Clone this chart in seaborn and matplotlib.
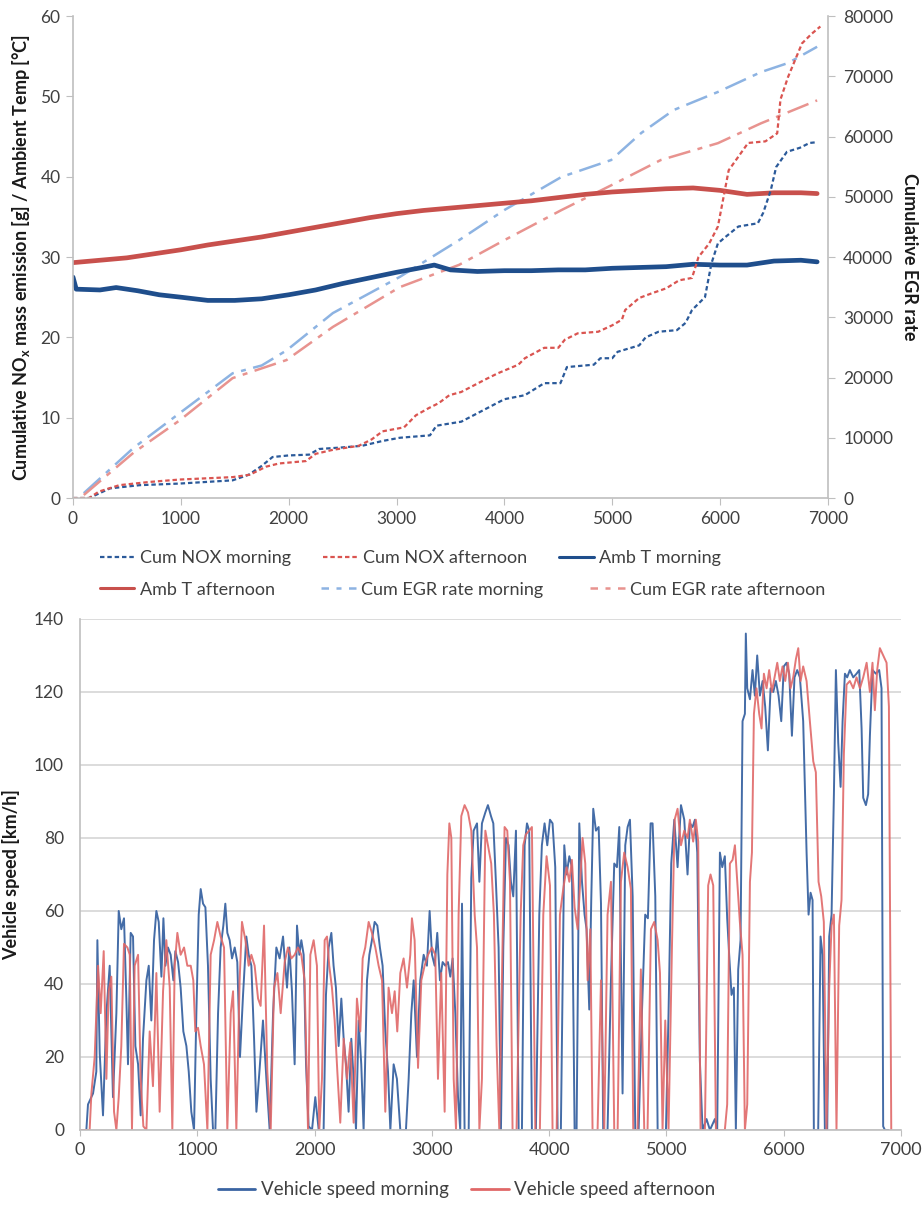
import pandas as pd
import seaborn as sns
import matplotlib.pyplot as plt
from matplotlib.lines import Line2D

sns.set_style('white')
plt.rcParams['font.family'] = ['Lato', 'DejaVu Sans']
plt.rcParams['mathtext.default'] = 'regular'

# ---------------- top chart data ----------------
# cumulative NOx [g]
nox_m_t = [0, 150, 343, 620, 990, 1480, 1630, 1750, 1850, 2000, 2190, 2280, 2500, 2680, 2870, 3030,
           3310, 3370, 3460, 3600, 4000, 4190, 4370, 4520, 4580, 4830, 4890, 5000, 5050, 5250, 5310,
           5430, 5600, 5680, 5740, 5860, 5920, 5980, 6050, 6170, 6350, 6400, 6470, 6520, 6620, 6740,
           6830, 6900]
nox_m_v = [0, 0, 1.2, 1.6, 1.8, 2.2, 2.9, 4.0, 5.1, 5.3, 5.4, 6.1, 6.3, 6.5, 7.1, 7.5,
           7.8, 9.0, 9.2, 9.5, 12.3, 12.8, 14.3, 14.3, 16.3, 16.6, 17.4, 17.4, 18.2, 19.0, 20.0,
           20.7, 20.9, 21.8, 23.4, 25.0, 29.2, 31.7, 32.5, 33.8, 34.2, 35.5, 38.3, 41.2, 43.1, 43.6,
           44.2, 44.3]
nox_a_t = [0, 150, 240, 430, 710, 990, 1480, 1640, 1790, 1910, 2160, 2250, 2410, 2650, 2770, 2870,
           3070, 3180, 3300, 3390, 3490, 3600, 3815, 3935, 4130, 4190, 4370, 4500, 4560, 4680, 4870,
           5000, 5090, 5120, 5250, 5370, 5500, 5620, 5740, 5800, 5900, 5980, 6050, 6080, 6170, 6260,
           6420, 6530, 6560, 6630, 6760, 6850, 6930]
nox_a_v = [0, 0, 0.8, 1.6, 2.0, 2.3, 2.6, 2.9, 3.9, 4.3, 4.6, 5.5, 6.0, 6.5, 7.3, 8.3,
           8.8, 10.3, 11.2, 11.8, 12.8, 13.2, 14.7, 15.5, 16.6, 17.4, 18.7, 18.7, 19.7, 20.5, 20.7,
           21.5, 22.2, 23.4, 24.9, 25.5, 26.1, 27.1, 27.4, 30.0, 31.7, 33.8, 38.7, 40.8, 42.5, 44.2,
           44.4, 45.4, 49.6, 52.4, 56.6, 57.8, 58.7]

# ambient temperature [degC]
amb_m_t = [0, 30, 250, 400, 600, 800, 1000, 1250, 1500, 1750, 2000, 2250, 2500, 2750, 3000, 3200,
           3350, 3500, 3750, 4000, 4250, 4500, 4750, 5000, 5250, 5500, 5750, 6000, 6250, 6500, 6750,
           6900]
amb_m_v = [27.5, 26.0, 25.9, 26.2, 25.8, 25.3, 25.0, 24.6, 24.6, 24.8, 25.3, 25.9, 26.7, 27.4, 28.1,
           28.6, 29.0, 28.4, 28.2, 28.3, 28.3, 28.4, 28.4, 28.6, 28.7, 28.8, 29.1, 29.0, 29.0, 29.5,
           29.6, 29.4]
amb_a_t = [0, 250, 500, 750, 1000, 1250, 1500, 1750, 2000, 2250, 2500, 2750, 3000, 3250, 3500, 3750,
           4000, 4250, 4500, 4750, 5000, 5250, 5500, 5750, 6000, 6250, 6500, 6750, 6900]
amb_a_v = [29.3, 29.6, 29.9, 30.4, 30.9, 31.5, 32.0, 32.5, 33.1, 33.7, 34.3, 34.9, 35.4, 35.8, 36.1,
           36.4, 36.7, 37.0, 37.4, 37.8, 38.1, 38.3, 38.5, 38.6, 38.3, 37.8, 38.0, 38.0, 37.9]

# cumulative EGR rate (right axis)
egr_m_t = [100, 560, 990, 1480, 1750, 1980, 2410, 3030, 3580, 4000, 4530, 4990, 5270, 5570, 5980,
           6380, 6630, 6900]
egr_m_v = [800, 8300, 14100, 20700, 22000, 24500, 30700, 36700, 42800, 47800, 53300, 56100, 60600,
           64400, 67400, 70700, 72200, 74900]
egr_a_t = [100, 560, 990, 1480, 1980, 2410, 3030, 3580, 4000, 4530, 4990, 5450, 5980, 6380, 6900]
egr_a_v = [500, 7500, 12900, 19900, 22900, 28400, 35000, 38700, 42800, 47800, 51900, 56100, 58900,
           62200, 66000]

# ---------------- bottom chart data: vehicle speed [km/h] ----------------
spd_m_t = [0, 54, 68, 111, 139, 148, 168, 196, 225, 253, 281, 310, 330, 352, 375, 395, 409, 432, 452,
           472, 495, 517, 537, 566, 586, 608, 631, 651, 671, 694, 711, 728, 750, 773, 796, 813, 836,
           858, 881, 907, 927, 949, 972, 992, 1012, 1029, 1049, 1069, 1091, 1114, 1134, 1154, 1177,
           1199, 1222, 1239, 1256, 1276, 1296, 1319, 1341, 1364, 1390, 1418, 1438, 1461, 1484, 1504,
           1532, 1560, 1589, 1617, 1646, 1674, 1702, 1731,
           1745, 1765, 1785, 1807, 1830, 1850, 1870, 1887, 1907, 1927, 1949, 1978, 2006, 2035, 2077,
           2097, 2120, 2143, 2162, 2182, 2205, 2228, 2248, 2268, 2290, 2313, 2333, 2353, 2376, 2398,
           2418, 2447, 2467, 2489, 2512, 2535, 2557, 2580, 2603, 2626, 2646, 2674, 2702, 2731, 2779,
           2802, 2825, 2845, 2873, 2901, 2930, 2958, 2981, 3001, 3024, 3046, 3069, 3092, 3115, 3137,
           3157, 3177, 3200, 3223, 3242, 3257, 3279, 3314, 3336, 3356, 3385, 3405, 3427, 3456, 3478,
           3504, 3524, 3546, 3569, 3589, 3609, 3632, 3654, 3674, 3694, 3717, 3740, 3768, 3791, 3811,
           3830, 3853, 3887, 3916, 3938, 3961, 3984, 4007, 4029, 4052, 4072, 4100, 4129, 4149, 4172,
           4194, 4217, 4234, 4257, 4280, 4302, 4319, 4342, 4359, 4376, 4399, 4422, 4442, 4461, 4498,
           4527, 4555, 4578, 4598, 4626, 4649, 4669, 4689, 4712, 4734, 4763, 4791, 4819, 4842, 4865,
           4882, 4905, 4925, 4996, 5018, 5041, 5067, 5095, 5124, 5152, 5180,
           5200, 5223, 5243, 5263, 5285, 5308, 5342, 5371, 5413, 5433, 5456, 5476, 5498, 5518, 5535,
           5555, 5575, 5592, 5612, 5632, 5649, 5669, 5677, 5689, 5712, 5734, 5754, 5774, 5797, 5820,
           5842, 5865, 5888, 5911, 5933, 5956, 5979, 6001, 6024, 6047, 6070, 6092, 6115, 6138, 6166,
           6195, 6212, 6229, 6246, 6257, 6294, 6314, 6331, 6351, 6371, 6388, 6408, 6428, 6445, 6465,
           6485, 6502, 6522, 6541, 6564, 6593, 6621, 6644, 6664, 6678, 6701, 6720, 6735, 6757, 6786,
           6814, 6834, 6848, 6863, 6891]
spd_m_v = [0, 0, 7, 10, 16, 52, 21, 4, 32, 45, 9, 32, 60, 55, 58, 36, 18, 54, 53,
           23, 18, 4, 25, 41, 45, 30, 52, 60, 57, 42, 58, 45, 50, 48, 41, 49, 46,
           39, 27, 23, 16, 5, 0, 32, 59, 66, 62, 61, 45, 14, 0, 0, 32,
           50, 56, 62, 54, 52, 47, 50, 46, 20, 37, 53, 48, 45, 25, 5,
           17, 30, 14, 0, 32, 50, 47, 53,
           47, 39, 50, 38, 18, 56, 48, 52, 48, 18, 1, 0, 9, 0, 0,
           37, 50, 54, 45, 39, 23, 36, 25, 18, 5, 25, 14, 0, 30, 18,
           0, 41, 48, 52, 57, 56, 50, 45, 27, 16, 0, 18, 14, 0, 0,
           14, 32, 41, 20, 41, 48, 45, 60, 48, 45, 54, 41, 46, 45, 46,
           42, 47, 32, 9, 0, 62, 0, 0, 69, 82, 84, 68, 84, 87, 89,
           86, 84, 68, 50, 0, 50, 80, 78, 68, 64, 82, 0, 0, 78, 84,
           82, 0, 0, 59, 78, 84, 78, 85, 84, 72, 0, 0, 78, 70, 75,
           72, 0, 0, 84, 68, 59, 55, 33, 63, 88, 82, 83, 62, 0, 0,
           41, 73, 72, 83, 10, 78, 83, 85, 64, 0, 0, 32, 59, 58, 84,
           84, 64, 0, 0, 32, 73, 85, 72, 89, 85, 70,
           84, 83, 85, 76, 19, 0, 3, 0, 3, 0, 76, 72, 75, 58, 48,
           37, 39, 0, 44, 52, 112, 114, 136, 121, 118, 126, 119, 130, 119, 123,
           116, 104, 121, 120, 123, 119, 112, 127, 128, 125, 108, 124, 126, 124, 112,
           76, 59, 65, 63, 0, 0, 53, 48, 0, 0, 53, 59, 92, 126, 106,
           94, 112, 125, 124, 126, 124, 125, 126, 110, 91, 89, 92, 108, 126, 125,
           126, 121, 1, 0, 0]

spd_a_t = [0, 82, 97, 125, 154, 176, 202, 225, 244, 267, 290, 310, 330, 352, 375, 404, 424, 443, 466,
           495, 517, 540, 566, 594, 622, 651, 679, 708, 736, 765, 787, 807, 830, 858, 887, 915, 944,
           966, 983, 1006, 1029, 1057, 1086, 1114, 1143, 1171, 1199, 1228, 1256, 1285, 1305, 1333,
           1361, 1381, 1410, 1438, 1461, 1489, 1518, 1540, 1569, 1597, 1626, 1654, 1683, 1711,
           1745, 1773, 1802, 1830, 1858, 1887, 1915, 1944, 1964, 1992, 2020, 2040, 2063, 2086, 2106,
           2125, 2148, 2171, 2194, 2219, 2248, 2276, 2305, 2333, 2361, 2390, 2410, 2432, 2461, 2489,
           2518, 2546, 2575, 2603, 2631, 2660, 2683, 2705, 2731, 2759, 2788, 2816, 2830, 2853, 2882,
           2910, 2938, 2967, 3001, 3029, 3052, 3080, 3109, 3132, 3149, 3166, 3186, 3206, 3228, 3251,
           3279, 3308, 3336, 3365, 3385, 3405, 3427, 3456,
           3478, 3506, 3529, 3552, 3575, 3597, 3620, 3643, 3666, 3688, 3722, 3757, 3779, 3802, 3830,
           3853, 3882, 3921, 3950, 3978, 4007, 4029, 4064, 4092, 4120, 4149, 4172, 4194, 4217, 4243,
           4265, 4285, 4308, 4328, 4351, 4370, 4413, 4442, 4470, 4498, 4527, 4555, 4584, 4612, 4640,
           4669, 4697, 4717, 4754, 4782, 4811, 4839, 4868, 4896, 4925, 4945, 4967, 4990, 5018, 5047,
           5070, 5095, 5124, 5152, 5180,
           5200, 5228, 5251, 5271, 5291, 5328, 5356, 5376, 5399, 5422, 5498, 5518, 5541, 5564, 5584,
           5604, 5626, 5649, 5669, 5689, 5712, 5729, 5746, 5768, 5791, 5811, 5831, 5854, 5876, 5899,
           5922, 5945, 5967, 5990, 6013, 6036, 6058, 6081, 6104, 6124, 6144, 6166, 6195, 6223, 6252,
           6274, 6297, 6320, 6342, 6365, 6388, 6408, 6428, 6450, 6473, 6493, 6513, 6536, 6564, 6593,
           6621, 6650, 6678, 6707, 6735, 6757, 6777, 6797, 6820, 6848, 6877, 6897, 6917]
spd_a_v = [0, 0, 10, 20, 45, 32, 49, 14, 38, 42, 5, 0, 9, 23, 51, 50, 48, 0, 45,
           48, 14, 1, 0, 27, 12, 43, 5, 38, 52, 39, 0, 45, 54, 48, 50, 45, 45,
           41, 27, 28, 23, 18, 0, 48, 52, 57, 53, 50, 0, 32, 38, 0,
           41, 57, 52, 45, 48, 45, 36, 34, 56, 16, 0, 39, 43, 32,
           46, 50, 47, 48, 50, 48, 41, 0, 48, 52, 45, 0, 14, 52, 53,
           45, 39, 30, 16, 2, 25, 14, 24, 2, 36, 27, 47, 50, 57, 54,
           50, 45, 41, 5, 39, 32, 38, 27, 43, 47, 39, 48, 58, 52, 17,
           41, 45, 48, 50, 48, 14, 43, 5, 70, 84, 80, 14, 0, 59, 86,
           89, 87, 82, 59, 50, 0, 14, 82,
           78, 73, 59, 23, 0, 41, 83, 82, 68, 0, 0, 59, 78, 81, 82,
           83, 0, 0, 59, 75, 67, 0, 0, 59, 66, 72, 68, 74, 61, 55,
           68, 80, 73, 41, 55, 0, 0, 41, 0, 59, 68, 0, 0, 68, 76,
           72, 66, 0, 0, 44, 0, 0, 55, 57, 52, 43, 0, 30, 0, 50,
           85, 88, 78, 82, 80,
           85, 79, 85, 79, 0, 0, 67, 70, 67, 0, 0, 7, 73, 74, 78,
           68, 57, 48, 0, 7, 68, 76, 114, 121, 114, 110, 125, 121, 126, 120,
           124, 128, 123, 127, 123, 128, 121, 124, 129, 132, 123, 127, 123, 112, 101,
           98, 68, 64, 57, 0, 39, 56, 59, 0, 56, 63, 103, 122, 123, 121,
           124, 121, 124, 128, 120, 128, 115, 126, 132, 130, 128, 116, 0]

# ---------------- styling ----------------
DARK_BLUE = '#1F4E8C'
RED = '#C8504C'
NOX_BLUE = '#2B5A9A'
NOX_RED = '#DA5450'
EGR_BLUE = '#8DB3E2'
EGR_RED = '#E8938F'
SPD_BLUE = '#3A64A2'
SPD_RED = '#E06868'
AX_GREY = '#BFBFBF'
TXT = '#404040'

DOT = (0, (2.0, 1.3))
DASHDOT = (0, (9, 3, 2, 3))

fig = plt.figure(figsize=(9.24, 12.07), dpi=100)
ax1 = fig.add_axes([0.079, 0.5874, 0.817, 0.3993])
ax2 = ax1.twinx()
ax3 = fig.add_axes([0.0866, 0.0638, 0.8885, 0.4234])


def draw(ax, t, v, **kw):
    sns.lineplot(x=t, y=v, ax=ax, estimator=None, sort=False, legend=False, **kw)


# top chart
draw(ax2, egr_m_t, egr_m_v, color=EGR_BLUE, lw=1.8, linestyle=DASHDOT)
draw(ax2, egr_a_t, egr_a_v, color=EGR_RED, lw=1.8, linestyle=DASHDOT)
draw(ax1, amb_m_t, amb_m_v, color=DARK_BLUE, lw=3.4)
draw(ax1, amb_a_t, amb_a_v, color=RED, lw=3.4)
draw(ax1, nox_m_t, nox_m_v, color=NOX_BLUE, lw=1.6, linestyle=DOT)
draw(ax1, nox_a_t, nox_a_v, color=NOX_RED, lw=1.6, linestyle=DOT)
ax1.set_zorder(ax2.get_zorder() + 1)
ax1.patch.set_visible(False)

ax1.set_xlim(0, 7000)
ax1.set_ylim(0, 60)
ax2.set_ylim(0, 80000)
ax1.set_xticks(range(0, 7001, 1000))
ax1.set_yticks(range(0, 61, 10))
ax2.set_yticks(range(0, 80001, 10000))

for a in (ax1, ax2):
    for s in a.spines.values():
        s.set_visible(False)
ax1.spines['left'].set_visible(True)
ax1.spines['bottom'].set_visible(True)
ax2.spines['right'].set_visible(True)
for s in (ax1.spines['left'], ax1.spines['bottom'], ax2.spines['right']):
    s.set_color(AX_GREY)
    s.set_linewidth(1.2)

ax1.tick_params(axis='both', which='both', bottom=True, left=True, direction='out', length=5,
                color=AX_GREY, labelcolor=TXT, labelsize=12.5, pad=4)
ax2.tick_params(axis='y', right=True, direction='out', length=5, color=AX_GREY,
                labelcolor=TXT, labelsize=12.5, pad=6)
ax1.set_xlabel('')
ax1.set_ylabel('Cumulative NO$_x$ mass emission [g] / Ambient Temp [°C]', fontsize=13,
               fontweight='bold', color='#1a1a1a', labelpad=6)
ax2.set_ylabel('Cumulative EGR rate', fontsize=13, fontweight='bold', color='#1a1a1a',
               rotation=270, labelpad=18)

h_nox_m = Line2D([], [], color=NOX_BLUE, lw=1.6, linestyle=DOT)
h_nox_a = Line2D([], [], color=NOX_RED, lw=1.6, linestyle=DOT)
h_amb_m = Line2D([], [], color=DARK_BLUE, lw=2.2)
h_amb_a = Line2D([], [], color=RED, lw=2.2)
h_egr_m = Line2D([], [], color=EGR_BLUE, lw=1.8, linestyle=(0, (3, 3, 2, 3)))
h_egr_a = Line2D([], [], color=EGR_RED, lw=1.8, linestyle=(0, (3, 3, 2, 3)))

leg_kw = dict(loc='upper left', frameon=False, ncol=3, fontsize=13, handlelength=1.9,
              handletextpad=0.3, borderpad=0, borderaxespad=0, labelcolor=TXT)
fig.legend(handles=[h_nox_m, h_nox_a, h_amb_m],
           labels=['Cum NOX morning', 'Cum NOX afternoon', 'Amb T morning'],
           bbox_to_anchor=(0.108, 0.544), columnspacing=1.8, **leg_kw)
fig.legend(handles=[h_amb_a, h_egr_m, h_egr_a],
           labels=['Amb T afternoon', 'Cum EGR rate morning', 'Cum EGR rate afternoon'],
           bbox_to_anchor=(0.108, 0.518), columnspacing=2.6, **leg_kw)

# bottom chart
draw(ax3, spd_m_t, spd_m_v, color=SPD_BLUE, lw=1.4, alpha=0.95)
draw(ax3, spd_a_t, spd_a_v, color=SPD_RED, lw=1.4, alpha=0.9)
ax3.set_xlim(0, 7000)
ax3.set_ylim(0, 140)
ax3.set_xticks(range(0, 7001, 1000))
ax3.set_yticks(range(0, 141, 20))
ax3.grid(axis='y', color='#D9D9D9', lw=1.3)
ax3.grid(axis='x', visible=False)
ax3.set_axisbelow(True)
for k, s in ax3.spines.items():
    s.set_visible(k in ('left', 'bottom'))
    s.set_color(AX_GREY)
    s.set_linewidth(1.2)
ax3.tick_params(axis='x', bottom=True, direction='out', length=4, color=AX_GREY,
                labelcolor=TXT, labelsize=13, pad=5)
ax3.tick_params(axis='y', left=False, labelcolor=TXT, labelsize=12.5, pad=8)
ax3.set_xlabel('')
ax3.set_ylabel('Vehicle speed [km/h]', fontsize=13, fontweight='bold', color='#1a1a1a',
               labelpad=10)

h_spd_m = Line2D([], [], color=SPD_BLUE, lw=2)
h_spd_a = Line2D([], [], color=SPD_RED, lw=2)
fig.legend(handles=[h_spd_m, h_spd_a],
           labels=['Vehicle speed morning', 'Vehicle speed afternoon'],
           loc='center', bbox_to_anchor=(0.505, 0.0141), ncol=2, frameon=False, fontsize=13.5,
           handlelength=2.0, handletextpad=0.3, columnspacing=1.2, labelcolor=TXT)

fig.savefig('out.png', dpi=100)
